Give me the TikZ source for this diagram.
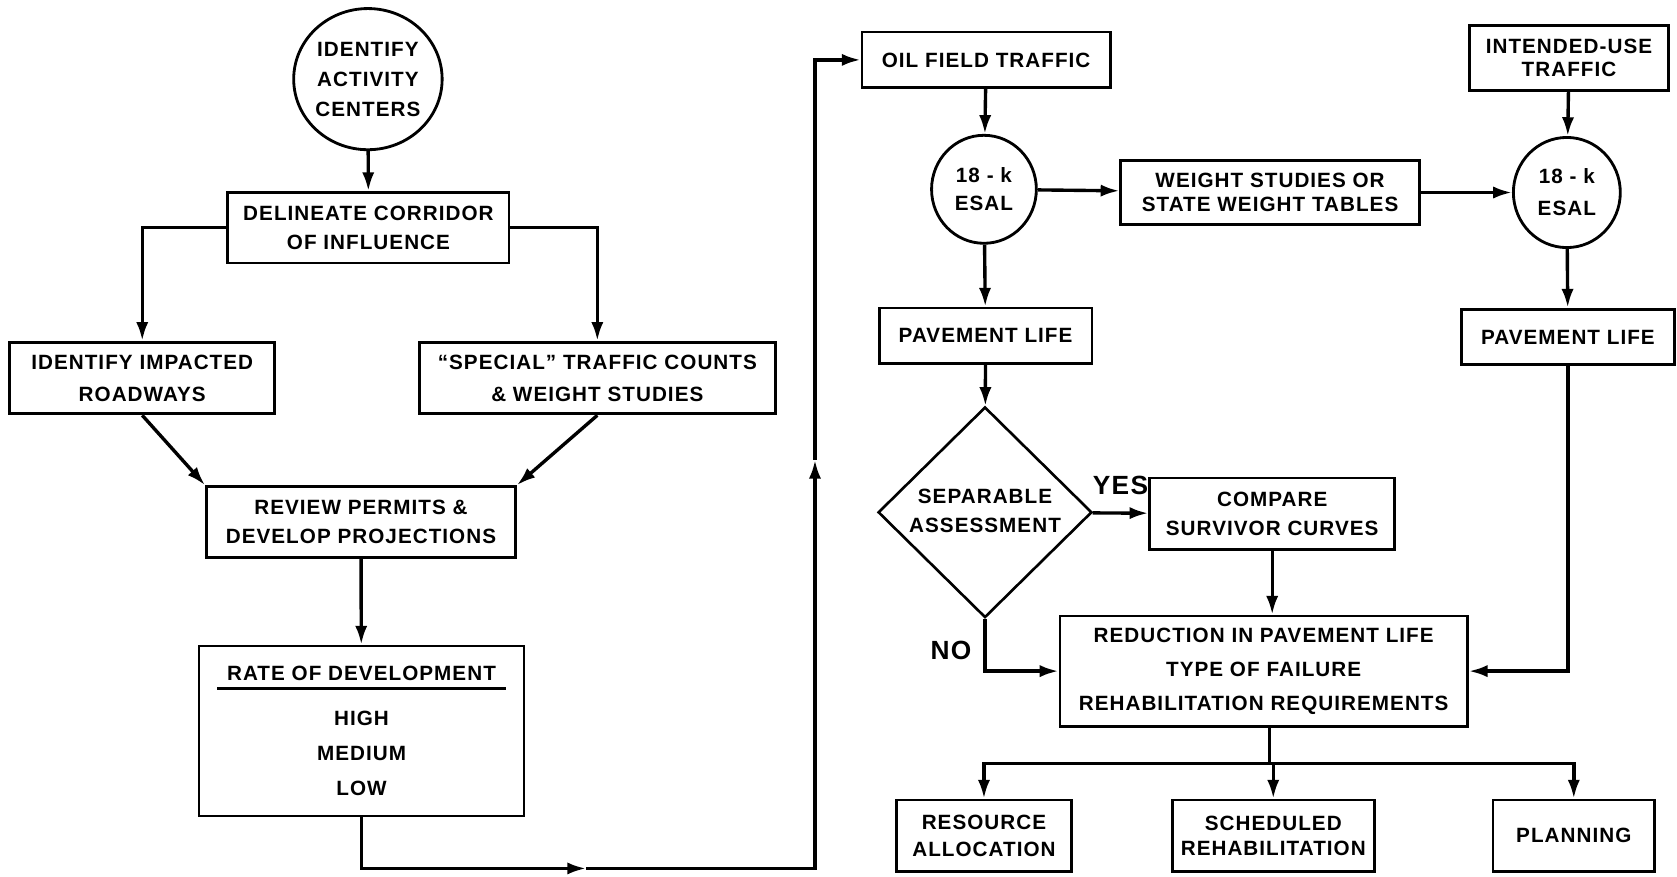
\documentclass[tikz,border=0pt]{standalone}
\usepackage{fontspec}
\setmainfont[LetterSpace=5]{Liberation Sans}
\usepackage{tikz}
\usetikzlibrary{arrows.meta, shapes.geometric}

\begin{document}
\begin{tikzpicture}[x=0.02cm, y=-0.02cm, >={Latex[length=10pt,width=6.5pt]},
  every node/.style={font=\fontsize{11}{15}\selectfont\bfseries, align=center},
  box/.style={draw, rectangle, line width=1.5pt, inner sep=0pt},
  ring/.style={draw, ellipse, line width=1.5pt, inner sep=0pt},
  decide/.style={draw, diamond, line width=1.4pt, inner sep=0pt},
  wire/.style={line width=1.8pt},
  flow/.style={wire, ->},
  lbl/.style={font=\fontsize{14}{16}\selectfont\bfseries}]
\useasboundingbox (0,0) rectangle (1568,820);
% left half
\node [ring, minimum width=2.5cm, minimum height=2.64cm] (act) at (344,74) {IDENTIFY\\[1pt]ACTIVITY\\[1pt]CENTERS};
\node [box, minimum width=5.26cm, minimum height=1.32cm] (corr) at (344.5,213) {DELINEATE CORRIDOR\\OF INFLUENCE};
\node [box, minimum width=4.96cm, minimum height=1.34cm] (road) at (133,353.5) {IDENTIFY IMPACTED\\[2pt]ROADWAYS};
\node [box, minimum width=6.66cm, minimum height=1.34cm] (count) at (558.5,353.5) {``SPECIAL'' TRAFFIC COUNTS\\[2pt]\& WEIGHT STUDIES};
\node [box, minimum width=5.78cm, minimum height=1.32cm] (perm) at (337.5,488) {REVIEW PERMITS \&\\DEVELOP PROJECTIONS};
\node [box, minimum width=6.08cm, minimum height=3.18cm] (rate) at (338,683.5) {RATE OF DEVELOPMENT\\[-9.75pt]\rule{5.4cm}{1.5pt}\\[3.5pt]HIGH\\[3.7pt]MEDIUM\\[4pt]LOW};
% right half
\node [box, minimum width=4.64cm, minimum height=1.04cm] (oil) at (922,56) {OIL FIELD TRAFFIC};
\node [ring, minimum width=1.96cm, minimum height=2.02cm] (esal1) at (920,177) {18 - k\\ESAL};
\node [box, minimum width=5.58cm, minimum height=1.2cm] (weight) at (1187.5,180) {WEIGHT STUDIES OR\\[-2pt]STATE WEIGHT TABLES};
\node [box, minimum width=3.72cm, minimum height=1.22cm] (intended) at (1467,54) {INTENDED-USE\\[-2.5pt]TRAFFIC};
\node [ring, minimum width=2cm, minimum height=2.06cm] (esal2) at (1465,180) {18 - k\\[2pt]ESAL};
\node [box, minimum width=3.98cm, minimum height=1.04cm] (pave2) at (1466,315) {PAVEMENT LIFE};
\node [box, minimum width=3.98cm, minimum height=1.04cm] (pave1) at (921.5,314) {PAVEMENT LIFE};
\node [decide, minimum width=4cm, minimum height=3.94cm] (sep) at (921,479) {\makebox[0pt]{\begin{tabular}{@{}c@{}}SEPARABLE\\ASSESSMENT\end{tabular}}};
\node [box, minimum width=4.58cm, minimum height=1.34cm] (compare) at (1189.5,480.5) {COMPARE\\SURVIVOR CURVES};
\node [box, minimum width=7.62cm, minimum height=2.06cm] (reduce) at (1181.5,627.5) {REDUCTION IN PAVEMENT LIFE\\[3pt]TYPE OF FAILURE\\[3pt]REHABILITATION REQUIREMENTS};
\node [box, minimum width=3.28cm, minimum height=1.34cm] (res) at (920,781.5) {RESOURCE\\[-1pt]ALLOCATION};
\node [box, minimum width=3.78cm, minimum height=1.34cm] (sched) at (1190.5,781.5) {SCHEDULED\\[-1.5pt]REHABILITATION};
\node [box, minimum width=3.02cm, minimum height=1.34cm] (plan) at (1471.5,781.5) {PLANNING};
% connectors, left
\draw (act) edge[flow] (corr);
\draw [flow] (corr.west) -| (road.north);
\draw [flow] (corr.east) -| (count.north);
\draw (road.south) edge[flow] (perm.north west);
\draw (count.south) edge[flow] (perm.north east);
\draw (perm) edge[flow] (rate);
\coordinate (loopa) at (548,812);
\coordinate (loopb) at (762,430);
\draw [flow] (rate.south) |- (loopa);
\draw [flow] (loopa) -| (loopb);
\draw [flow] (loopb) |- (oil.west);
% connectors, right
\draw (oil) edge[flow] (esal1);
\draw (esal1) edge[flow] (weight);
\draw (weight) edge[flow] (esal2);
\draw (intended) edge[flow] (esal2);
\draw (esal2) edge[flow] (pave2);
\draw [flow] (pave2.south) |- (reduce.east);
\draw (esal1) edge[flow] (pave1);
\draw (pave1) edge[flow] (sep);
\draw (sep) edge[flow] node[lbl, above=0.2cm]{YES} (compare);
\draw (compare.south) edge[flow] (compare.south |- reduce.north);
\draw [flow] (sep.south) |- node[lbl, pos=0.3, left=3pt]{NO} (reduce.west);
\coordinate (fork) at (1187,714);
\draw [wire] (fork |- reduce.south) -- (fork);
\draw [flow] (fork) -| (res.north);
\draw [flow] (fork) -| (sched.north);
\draw [flow] (fork) -| (plan.north);
\end{tikzpicture}
\end{document}
